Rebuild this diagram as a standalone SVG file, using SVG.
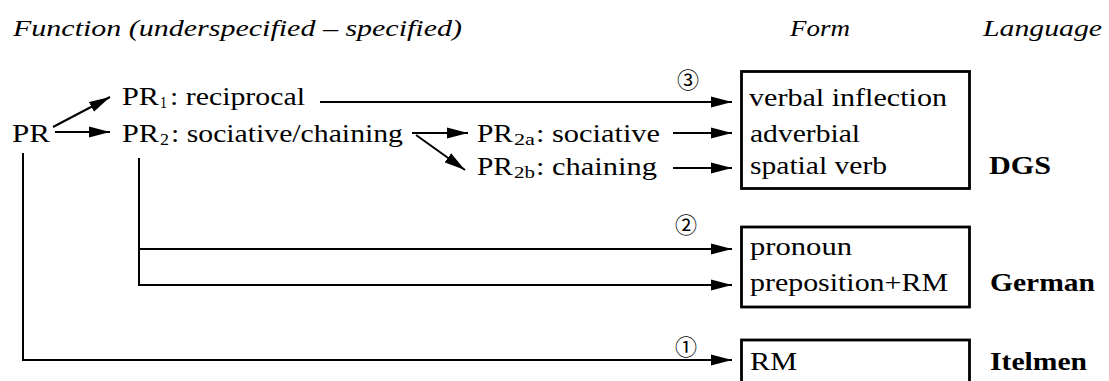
<svg xmlns="http://www.w3.org/2000/svg" width="1109" height="381" viewBox="0 0 1109 381">
  <style>
    .hdr { font-family: 'Liberation Serif', serif; font-style: italic; font-size: 23px; fill: #000; }
    .t { font-family: 'Liberation Serif', serif; font-size: 25px; fill: #000; }
    .sub { font-family: 'Liberation Serif', serif; font-size: 17px; fill: #000; }
    .lang { font-family: 'Liberation Serif', serif; font-size: 25px; font-weight: bold; fill: #000; }
    .num { font-family: 'Noto Sans CJK JP', sans-serif; font-size: 22px; fill: #000; text-anchor: middle; }
    .box { fill: none; stroke: #000; stroke-width: 2.8; }
    .conn { fill: none; stroke: #000; stroke-width: 2; }
  </style>
  <defs>
    <marker id="arr" markerUnits="userSpaceOnUse" markerWidth="21" markerHeight="12" refX="21" refY="6" orient="auto">
      <path d="M0,0.5 L21,6 L0,11.5 z" fill="#000"/>
    </marker>
  </defs>
  <rect width="1109" height="381" fill="#fff"/>

  <!-- column headings -->
  <g id="headings">
    <text class="hdr" x="13" y="36" textLength="449" lengthAdjust="spacingAndGlyphs">Function (underspecified &#8211; specified)</text>
    <text class="hdr" x="790" y="36" textLength="60" lengthAdjust="spacingAndGlyphs">Form</text>
    <text class="hdr" x="983" y="36" textLength="119" lengthAdjust="spacingAndGlyphs">Language</text>
  </g>

  <!-- connectors -->
  <g id="connectors">
    <line class="conn" x1="53" y1="127" x2="110" y2="97" marker-end="url(#arr)"/>
    <line class="conn" x1="55" y1="132" x2="110" y2="132" marker-end="url(#arr)"/>
    <line class="conn" x1="320" y1="102" x2="732" y2="102" marker-end="url(#arr)"/>
    <line class="conn" x1="412" y1="133" x2="468" y2="133" marker-end="url(#arr)"/>
    <line class="conn" x1="416" y1="135" x2="465" y2="170" marker-end="url(#arr)"/>
    <line class="conn" x1="673" y1="133" x2="732" y2="133" marker-end="url(#arr)"/>
    <line class="conn" x1="673" y1="168" x2="732" y2="168" marker-end="url(#arr)"/>
    <path class="conn" d="M139,158 V249 H732" marker-end="url(#arr)"/>
    <path class="conn" d="M139,249 V285 H732" marker-end="url(#arr)"/>
    <path class="conn" d="M23,153 V360 H732" marker-end="url(#arr)"/>
  </g>

  <!-- step numbers -->
  <g id="steps">
    <text class="num" x="688" y="88">&#9314;</text>
    <text class="num" x="686" y="233">&#9313;</text>
    <text class="num" x="686" y="355">&#9312;</text>
  </g>

  <!-- functions -->
  <g id="node-pr">
    <text class="t" x="12" y="142" textLength="38" lengthAdjust="spacingAndGlyphs">PR</text>
  </g>
  <g id="node-pr1">
    <text class="t" x="122" y="105" textLength="37" lengthAdjust="spacingAndGlyphs">PR</text>
    <text class="sub" x="160" y="108" textLength="7" lengthAdjust="spacingAndGlyphs">1</text>
    <text class="t" x="170" y="105" textLength="135" lengthAdjust="spacingAndGlyphs">: reciprocal</text>
  </g>
  <g id="node-pr2">
    <text class="t" x="122" y="142" textLength="37" lengthAdjust="spacingAndGlyphs">PR</text>
    <text class="sub" x="160" y="145" textLength="9" lengthAdjust="spacingAndGlyphs">2</text>
    <text class="t" x="171" y="142" textLength="232" lengthAdjust="spacingAndGlyphs">: sociative/chaining</text>
  </g>
  <g id="node-pr2a">
    <text class="t" x="477" y="142" textLength="36" lengthAdjust="spacingAndGlyphs">PR</text>
    <text class="sub" x="514" y="145" textLength="21" lengthAdjust="spacingAndGlyphs">2a</text>
    <text class="t" x="536" y="142" textLength="124" lengthAdjust="spacingAndGlyphs">: sociative</text>
  </g>
  <g id="node-pr2b">
    <text class="t" x="477" y="175" textLength="36" lengthAdjust="spacingAndGlyphs">PR</text>
    <text class="sub" x="514" y="178" textLength="21" lengthAdjust="spacingAndGlyphs">2b</text>
    <text class="t" x="536" y="175" textLength="121" lengthAdjust="spacingAndGlyphs">: chaining</text>
  </g>

  <!-- forms by language -->
  <g id="node-dgs">
    <rect class="box" x="741.5" y="71.5" width="228" height="117"/>
    <text class="t" x="749" y="106" textLength="198" lengthAdjust="spacingAndGlyphs">verbal inflection</text>
    <text class="t" x="750" y="142" textLength="110" lengthAdjust="spacingAndGlyphs">adverbial</text>
    <text class="t" x="750" y="174" textLength="137" lengthAdjust="spacingAndGlyphs">spatial verb</text>
    <text class="lang" x="989" y="174" textLength="62" lengthAdjust="spacingAndGlyphs">DGS</text>
  </g>
  <g id="node-german">
    <rect class="box" x="741.5" y="227" width="228" height="80"/>
    <text class="t" x="750" y="255" textLength="102" lengthAdjust="spacingAndGlyphs">pronoun</text>
    <text class="t" x="750" y="291" textLength="198" lengthAdjust="spacingAndGlyphs">preposition+RM</text>
    <text class="lang" x="990" y="291" textLength="105" lengthAdjust="spacingAndGlyphs">German</text>
  </g>
  <g id="node-itelmen">
    <rect class="box" x="741.5" y="340" width="228" height="60"/>
    <text class="t" x="750" y="370" textLength="47" lengthAdjust="spacingAndGlyphs">RM</text>
    <text class="lang" x="990" y="370" textLength="97" lengthAdjust="spacingAndGlyphs">Itelmen</text>
  </g>
</svg>
